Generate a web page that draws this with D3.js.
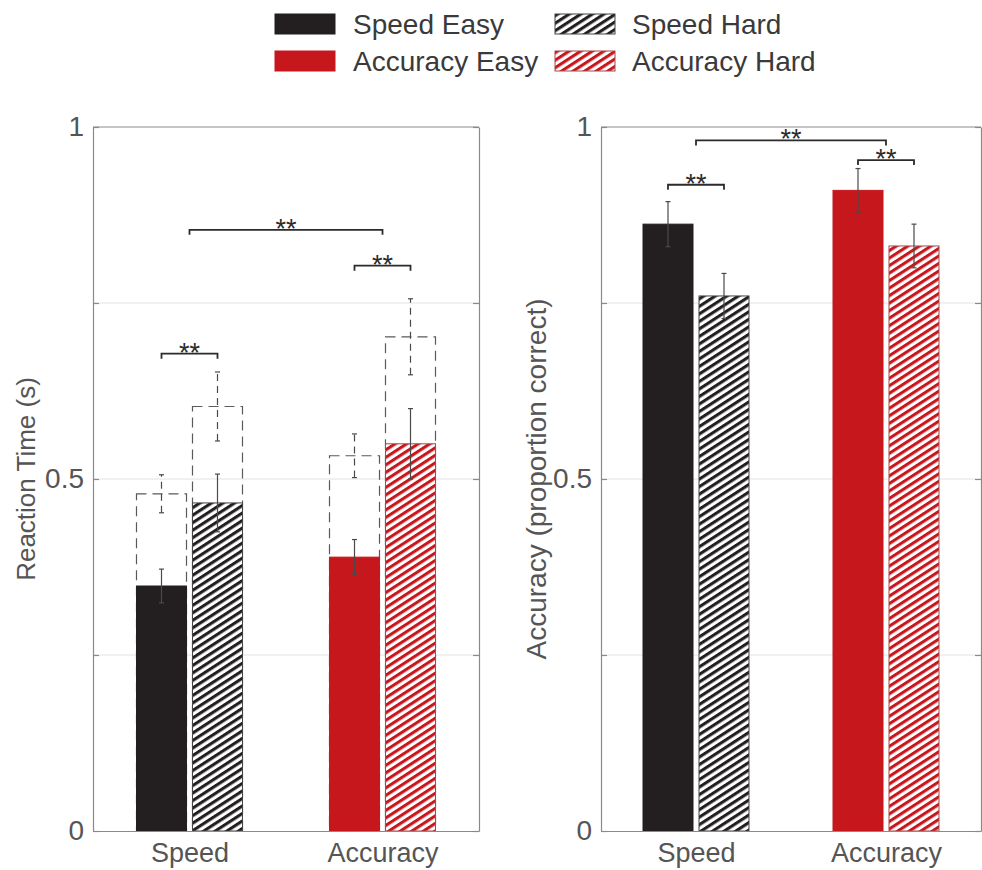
<!DOCTYPE html>
<html>
<head>
<meta charset="utf-8">
<script src="https://cdn.jsdelivr.net/npm/d3@7"></script>
<style>
  html, body { margin: 0; padding: 0; background: #fff; }
  svg { display: block; font-family: "Liberation Sans", Arial, Helvetica, sans-serif; }
</style>
</head>
<body>
<svg id="chart" width="982" height="870"></svg>
<script>
// ---- data ----------------------------------------------------------------
const categories = ["Speed", "Accuracy"];
const difficulties = ["Easy", "Hard"];
const yTickValues = [0, 0.25, 0.5, 0.75, 1];
const yTickLabels = ["0", "", "0.5", "", "1"];

// order of every value list: Speed Easy, Speed Hard, Accuracy Easy, Accuracy Hard
// reaction time (s), correct trials (filled bars)
const rtMean = [0.348, 0.466, 0.389, 0.550];
const rtSem  = [0.024, 0.041, 0.025, 0.050];
// reaction time (s), error trials (dashed outlines)
const rtErrorMean = [0.479, 0.603, 0.533, 0.702];
const rtErrorSem  = [0.027, 0.049, 0.031, 0.054];
// accuracy (proportion correct)
const accMean = [0.862, 0.760, 0.910, 0.831];
const accSem  = [0.032, 0.032, 0.031, 0.031];

// significance brackets: [start, end, height, label]; a null difficulty means the category centre
const rtBrackets = [
  [["Speed", "Easy"], ["Speed", "Hard"], 0.678, "**"],
  [["Accuracy", "Easy"], ["Accuracy", "Hard"], 0.803, "**"],
  [["Speed", null], ["Accuracy", null], 0.854, "**"]
];
const accBrackets = [
  [["Speed", "Easy"], ["Speed", "Hard"], 0.918, "**"],
  [["Accuracy", "Easy"], ["Accuracy", "Hard"], 0.953, "**"],
  [["Speed", null], ["Accuracy", null], 0.981, "**"]
];

const legendLabels = ["Speed Easy", "Speed Hard", "Accuracy Easy", "Accuracy Hard"];
const yTitles = ["Reaction Time (s)", "Accuracy (proportion correct)"];

// ---- styling -------------------------------------------------------------
const colors = { Speed: "#231f20", Accuracy: "#c6171d" };
const hardStroke = { Speed: "#444", Accuracy: "#a8484a" };
const axisColor = "#8a8a8a";
const textColor = "#555";

const svg = d3.select("#chart");
const defs = svg.append("defs");

// diagonal hatching used for the Hard conditions
categories.forEach(c => {
  const p = defs.append("pattern")
    .attr("id", "hatch-" + c)
    .attr("patternUnits", "userSpaceOnUse")
    .attr("width", 12).attr("height", 6.3)
    .attr("patternTransform", "rotate(-33)");
  p.append("rect").attr("width", 12).attr("height", 6.3).attr("fill", "#fff");
  p.append("rect").attr("width", 12).attr("height", 3.1).attr("fill", colors[c]);
});

const fillFor = (c, d) => d === "Easy" ? colors[c] : `url(#hatch-${c})`;
const strokeFor = (c, d) => d === "Easy" ? colors[c] : hardStroke[c];

const cells = d3.cross(categories, difficulties); // same order as the value lists

function drawPanel(opt) {
  const { left, right, top, bottom, mean, sem, dashMean, dashSem, brackets,
          title, titleX, titleSize, tickSize } = opt;
  const g = svg.append("g");

  const y = d3.scaleLinear().domain([0, 1]).range([bottom, top]);
  const x = d3.scalePoint().domain(categories).range([left, right]).padding(0.5);
  const sub = d3.scaleBand().domain(difficulties).range([-53, 53]).paddingInner(0.107);
  const bw = sub.bandwidth();
  const barX = (c, d) => x(c) + sub(d);
  const barMid = (c, d) => barX(c, d) + bw / 2;

  // horizontal grid
  g.append("g").selectAll("line")
    .data(yTickValues.filter(v => v > 0 && v < 1))
    .join("line")
    .attr("x1", left).attr("x2", right)
    .attr("y1", d => y(d)).attr("y2", d => y(d))
    .attr("stroke", "#e2e2e2").attr("stroke-width", 1);

  const errBar = (sel, vals, errs, dashed) => {
    const grp = sel.selectAll("g").data(cells).join("g")
      .attr("stroke", "#4a4a4a").attr("stroke-width", 1.2)
      .attr("stroke-dasharray", dashed ? "7,5" : null);
    grp.append("line")
      .attr("x1", ([c, d]) => barMid(c, d)).attr("x2", ([c, d]) => barMid(c, d))
      .attr("y1", (_, i) => y(vals[i] - errs[i])).attr("y2", (_, i) => y(vals[i] + errs[i]));
    [-1, 1].forEach(s => {
      grp.append("line")
        .attr("stroke-dasharray", null)
        .attr("x1", ([c, d]) => barMid(c, d) - 2.5).attr("x2", ([c, d]) => barMid(c, d) + 2.5)
        .attr("y1", (_, i) => y(vals[i] + s * errs[i])).attr("y2", (_, i) => y(vals[i] + s * errs[i]));
    });
  };

  // dashed outlines (drawn first so the filled bars sit in front)
  if (dashMean) {
    g.append("g").selectAll("rect").data(cells).join("rect")
      .attr("x", ([c, d]) => barX(c, d)).attr("width", bw)
      .attr("y", (_, i) => y(dashMean[i])).attr("height", (_, i) => y(0) - y(dashMean[i]))
      .attr("fill", "none").attr("stroke", "#5a5a5a").attr("stroke-width", 1.2)
      .attr("stroke-dasharray", "10,6");
    errBar(g.append("g"), dashMean, dashSem, true);
  }

  // filled bars
  g.append("g").selectAll("rect").data(cells).join("rect")
    .attr("x", ([c, d]) => barX(c, d)).attr("width", bw)
    .attr("y", (_, i) => y(mean[i])).attr("height", (_, i) => y(0) - y(mean[i]))
    .attr("fill", ([c, d]) => fillFor(c, d))
    .attr("stroke", ([c, d]) => strokeFor(c, d)).attr("stroke-width", 1);

  errBar(g.append("g"), mean, sem, false);

  // axes
  const styleAxis = a => {
    a.selectAll(".domain").attr("stroke", axisColor).attr("stroke-width", 1.2);
    a.selectAll(".tick line").attr("stroke", axisColor).attr("stroke-width", 1.2);
    a.selectAll("text").attr("fill", textColor).attr("font-size", tickSize)
      .attr("font-family", null);
  };
  g.append("g").attr("transform", `translate(${left},0)`)
    .call(d3.axisLeft(y).tickValues(yTickValues).tickFormat((d, i) => yTickLabels[i])
      .tickSizeInner(-6).tickSizeOuter(0).tickPadding(9))
    .call(styleAxis);
  g.append("g").attr("transform", `translate(${right},0)`)
    .call(d3.axisRight(y).tickValues(yTickValues).tickFormat("")
      .tickSizeInner(-6).tickSizeOuter(0))
    .call(styleAxis);
  g.append("line").attr("x1", left).attr("x2", right).attr("y1", top).attr("y2", top)
    .attr("stroke", axisColor).attr("stroke-width", 1.2);
  g.append("g").attr("transform", `translate(0,${bottom})`)
    .call(d3.axisBottom(x).tickSize(0).tickPadding(12))
    .call(styleAxis)
    .call(a => a.selectAll("text").attr("font-size", 27));

  // y title
  g.append("text")
    .attr("transform", `translate(${titleX},${(top + bottom) / 2}) rotate(-90)`)
    .attr("text-anchor", "middle").attr("fill", textColor).attr("font-size", titleSize)
    .text(title);

  // significance brackets
  const endX = ([c, d]) => d ? barMid(c, d) : x(c);
  const bg = g.append("g").selectAll("g").data(brackets).join("g");
  bg.append("path")
    .attr("d", b => {
      const xa = endX(b[0]), xb = endX(b[1]), yb = y(b[2]);
      return `M${xa},${yb + 5}V${yb}H${xb}V${yb + 5}`;
    })
    .attr("fill", "none").attr("stroke", "#2b2b2b").attr("stroke-width", 1.8);
  bg.append("text")
    .attr("x", b => (endX(b[0]) + endX(b[1])) / 2)
    .attr("y", b => y(b[2]) + 8)
    .attr("text-anchor", "middle").attr("fill", "#2b2b2b").attr("font-size", 27)
    .text(b => b[3]);
}

drawPanel({ left: 93, right: 479, top: 127, bottom: 831,
  mean: rtMean, sem: rtSem, dashMean: rtErrorMean, dashSem: rtErrorSem,
  brackets: rtBrackets, title: yTitles[0], titleX: 35, titleSize: 26, tickSize: 28 });

drawPanel({ left: 601, right: 981, top: 127, bottom: 831,
  mean: accMean, sem: accSem, dashMean: null, dashSem: null,
  brackets: accBrackets, title: yTitles[1], titleX: 546, titleSize: 28, tickSize: 28 });

// legend
const legend = svg.append("g").selectAll("g").data(cells).join("g")
  .attr("transform", (_, i) => `translate(${i % 2 ? 555 : 275},${i < 2 ? 14 : 51})`);
legend.append("rect")
  .attr("width", 60).attr("height", 20)
  .attr("fill", ([c, d]) => fillFor(c, d))
  .attr("stroke", ([c, d]) => strokeFor(c, d)).attr("stroke-width", 1);
legend.append("text")
  .attr("x", (_, i) => i % 2 ? 77 : 78).attr("y", 20)
  .attr("fill", "#3a3a3a").attr("font-size", 28)
  .text((_, i) => legendLabels[i]);
</script>
</body>
</html>
